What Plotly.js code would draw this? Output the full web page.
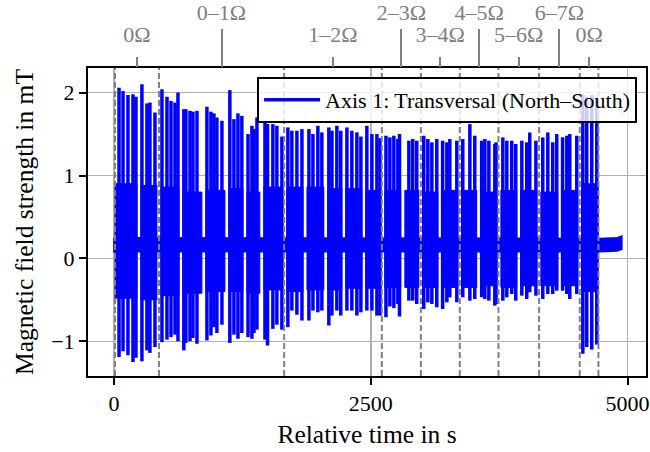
<!DOCTYPE html>
<html><head><meta charset="utf-8">
<script src="https://cdn.plot.ly/plotly-3.0.1.min.js"></script>
<style>html,body{margin:0;padding:0;background:#fff}</style>
</head><body><div id="chart" style="width:650px;height:452px"></div>
<script>
// Section boundaries (dashed lines), s
const dividerT = [10, 438, 1657, 2608, 2988, 3367, 3744, 4139, 4535, 4717];
// Top-axis section labels (centre of each section), s
const sectionT = [224, 1047, 2132, 2798, 3177, 3555, 3941, 4337, 4626];
const sectionLabel = ['0Ω', '0–1Ω', '1–2Ω', '2–3Ω', '3–4Ω', '4–5Ω', '5–6Ω', '6–7Ω', '0Ω'];
const sectionRow = [0, 1, 0, 1, 0, 1, 0, 1, 0]; // 1 = upper row (long tick)

// Tall spikes: time (s), maximum (mT), minimum (mT)
const spikeT = [49, 88, 136, 185, 214, 272, 321, 350, 399,
  467, 516, 555, 594, 623, 680, 700, 740, 769, 808, 905, 944, 973, 1002, 1051, 1128, 1168, 1207, 1245, 1305, 1343, 1363, 1392, 1470, 1495, 1547, 1586, 1635,
  1693, 1732, 1781, 1830, 1898, 1937, 1985, 2024, 2092, 2122, 2170, 2208, 2268, 2316, 2365, 2404, 2462, 2511, 2560, 2590,
  2648, 2686, 2725, 2764, 2780, 2871, 2909, 2948, 3016, 3056, 3095, 3143, 3200, 3241, 3270, 3338, 3396, 3465, 3513, 3580, 3611, 3650, 3708, 3720,
  3786, 3825, 3873, 3912, 3971, 4019, 4048, 4108, 4175, 4224, 4272, 4311, 4368, 4409, 4438, 4506,
  4565, 4603, 4652, 4701];
const spikeHigh = [2.06, 2.02, 1.97, 1.98, 1.95, 2.10, 1.87, 1.88, 1.76,
  2.04, 1.95, 1.90, 1.88, 2.00, 1.80, 1.80, 1.78, 1.77, 1.78, 1.83, 1.77, 1.75, 1.70, 1.66, 2.03, 1.68, 1.75, 1.72, 1.50, 1.60, 1.56, 1.70, 1.66, 1.62, 1.62, 1.60, 1.47,
  1.58, 1.54, 1.54, 1.56, 1.56, 1.50, 1.60, 1.52, 1.58, 1.54, 1.60, 1.54, 1.58, 1.54, 1.52, 1.47, 1.60, 1.50, 1.50, 1.45,
  1.48, 1.46, 1.48, 1.44, 1.50, 1.42, 1.44, 1.42, 1.48, 1.44, 1.40, 1.44, 1.42, 1.40, 1.44, 1.42, 1.44, 1.62, 1.48, 1.42, 1.44, 1.42, 1.38, 1.40,
  1.46, 1.42, 1.42, 1.38, 1.42, 1.40, 1.52, 1.42, 1.46, 1.52, 1.40, 1.50, 1.46, 1.48, 1.50, 1.48,
  1.98, 1.95, 1.97, 1.94];
const spikeLow = [-1.19, -1.12, -1.17, -1.25, -1.20, -1.24, -1.11, -1.14, -1.07,
  -1.01, -0.98, -0.95, -0.92, -1.00, -1.11, -1.02, -1.00, -0.96, -1.03, -0.99, -0.93, -0.83, -0.90, -0.80, -1.02, -0.92, -0.97, -0.90, -0.95, -0.97, -0.90, -0.86, -0.98, -1.05, -0.85, -0.80, -0.86,
  -0.83, -0.63, -0.68, -0.75, -0.75, -0.63, -0.65, -0.63, -0.81, -0.69, -0.63, -0.69, -0.63, -0.63, -0.69, -0.65, -0.63, -0.63, -0.69, -0.69,
  -0.71, -0.58, -0.60, -0.55, -0.70, -0.51, -0.51, -0.55, -0.61, -0.53, -0.55, -0.59, -0.61, -0.53, -0.47, -0.53, -0.47, -0.51, -0.49, -0.47, -0.49, -0.51, -0.57, -0.55,
  -0.51, -0.47, -0.43, -0.51, -0.45, -0.49, -0.41, -0.45, -0.49, -0.43, -0.43, -0.39, -0.39, -0.43, -0.49, -0.43,
  -1.15, -1.07, -1.10, -1.04];

// Dense oscillation bursts: start (s), end (s), upper and lower envelope (mT)
const burstStart = [10, 263, 458, 672, 896, 1120, 1295, 1460, 1684, 1879, 2083, 2258, 2453, 2638, 2832, 3008, 3193, 3387, 3572, 3767, 3961, 4156, 4360, 4555];
const burstEnd   = [223, 418, 632, 856, 1080, 1255, 1420, 1644, 1839, 2043, 2218, 2413, 2598, 2792, 2968, 3153, 3347, 3532, 3727, 3921, 4116, 4320, 4515, 4715];
const burstHigh  = [0.90, 0.88, 0.86, 0.80, 0.82, 0.84, 0.80, 0.86, 0.86, 0.86, 0.84, 0.84, 0.82, 0.82, 0.82, 0.80, 0.82, 0.82, 0.80, 0.82, 0.82, 0.80, 0.82, 0.90];
const burstLow   = [-0.48, -0.50, -0.45, -0.42, -0.40, -0.40, -0.42, -0.38, -0.40, -0.38, -0.38, -0.36, -0.36, -0.35, -0.35, -0.35, -0.35, -0.35, -0.33, -0.35, -0.33, -0.33, -0.33, -0.40];

// Resting signal band (no excitation)
const restT    = [0, 4720, 4900, 4945];
const restHigh = [0.25, 0.24, 0.25, 0.27];
const restLow  = [0.08, 0.08, 0.09, 0.11];

const BLUE = '#0000ff';
const GREY = '#808080';
const FONT = '"Liberation Serif", "Times New Roman", Times, serif';

const rx = restT.concat(restT.slice().reverse(), [restT[0]]);
const ry = restHigh.concat(restLow.slice().reverse(), [restHigh[0]]);

const bx = [], by = [];
burstStart.forEach((s, i) => {
  const e = burstEnd[i];
  bx.push(s, e, e, s, s, null);
  by.push(burstHigh[i], burstHigh[i], burstLow[i], burstLow[i], burstHigh[i], null);
});

const sx = [], sy = [];
spikeT.forEach((t, i) => { sx.push(t, t, null); sy.push(spikeHigh[i], spikeLow[i], null); });

const pick = row => sectionT.filter((_, i) => sectionRow[i] === row);
const traces = [
  {x: rx, y: ry, mode: 'lines', fill: 'toself', fillcolor: BLUE, line: {color: BLUE, width: 1.5}, showlegend: false, hoverinfo: 'skip'},
  {x: bx, y: by, mode: 'lines', fill: 'toself', fillcolor: BLUE, line: {color: BLUE, width: 1}, showlegend: false, hoverinfo: 'skip', connectgaps: false},
  {x: sx, y: sy, mode: 'lines', line: {color: BLUE, width: 3.5}, name: 'Axis 1: Transversal (North–South)', connectgaps: false},
  {x: pick(1), y: pick(1).map(() => null), xaxis: 'x2', yaxis: 'y', mode: 'lines', showlegend: false, hoverinfo: 'skip'},
  {x: pick(0), y: pick(0).map(() => null), xaxis: 'x3', yaxis: 'y', mode: 'lines', showlegend: false, hoverinfo: 'skip'}
];

const xr = [-253, 5180];
const topAxis = (row, len, standoff) => ({
  overlaying: 'x', side: 'top', anchor: 'y', range: xr,
  tickmode: 'array',
  tickvals: pick(row),
  ticktext: sectionLabel.filter((_, i) => sectionRow[i] === row),
  ticks: 'outside', ticklen: len, tickwidth: 2, tickcolor: GREY,
  tickfont: {family: FONT, size: 22, color: GREY},
  ticklabelstandoff: standoff,
  showgrid: false, showline: false, zeroline: false, fixedrange: true
});

const layout = {
  width: 650, height: 452,
  margin: {l: 88, r: 4, t: 68, b: 76},
  paper_bgcolor: '#fff', plot_bgcolor: '#fff',
  font: {family: FONT, size: 22, color: '#000'},
  showlegend: true,
  legend: {x: 0.984, xanchor: 'right', y: 0.971, yanchor: 'top',
    bgcolor: 'rgba(255,255,255,0.8)', bordercolor: '#000', borderwidth: 2,
    itemwidth: 56,
    font: {family: FONT, size: 22, color: '#000'}},
  xaxis: {
    range: xr, tickmode: 'array', tickvals: [0, 2500, 5000],
    ticks: 'outside', ticklen: 7, tickwidth: 2, tickcolor: '#000',
    showline: true, linewidth: 2, linecolor: '#000', mirror: true,
    showgrid: true, gridcolor: '#b0b0b0', gridwidth: 1.5, zeroline: false,
    tickfont: {family: FONT, size: 22},
    title: {text: 'Relative time in s', font: {family: FONT, size: 25.5}, standoff: 10}
  },
  xaxis2: topAxis(1, 38, 0),
  xaxis3: topAxis(0, 10, 6),
  yaxis: {
    range: [-1.419, 2.297], tickmode: 'array', tickvals: [-1, 0, 1, 2],
    ticks: 'outside', ticklen: 7, tickwidth: 2, tickcolor: '#000',
    showline: true, linewidth: 2, linecolor: '#000', mirror: true,
    showgrid: true, gridcolor: '#b0b0b0', gridwidth: 1.5, zeroline: false,
    tickfont: {family: FONT, size: 22},
    title: {text: 'Magnetic field strength in mT', font: {family: FONT, size: 25.5}, standoff: 10}
  },
  shapes: dividerT.map(t => ({type: 'line', xref: 'x', yref: 'paper', x0: t, x1: t, y0: 0, y1: 1,
    line: {color: GREY, width: 2, dash: '6px,3px'}, layer: 'above'}))
};

Plotly.newPlot('chart', traces, layout, {displayModeBar: false, staticPlot: true});
</script>
</body></html>
